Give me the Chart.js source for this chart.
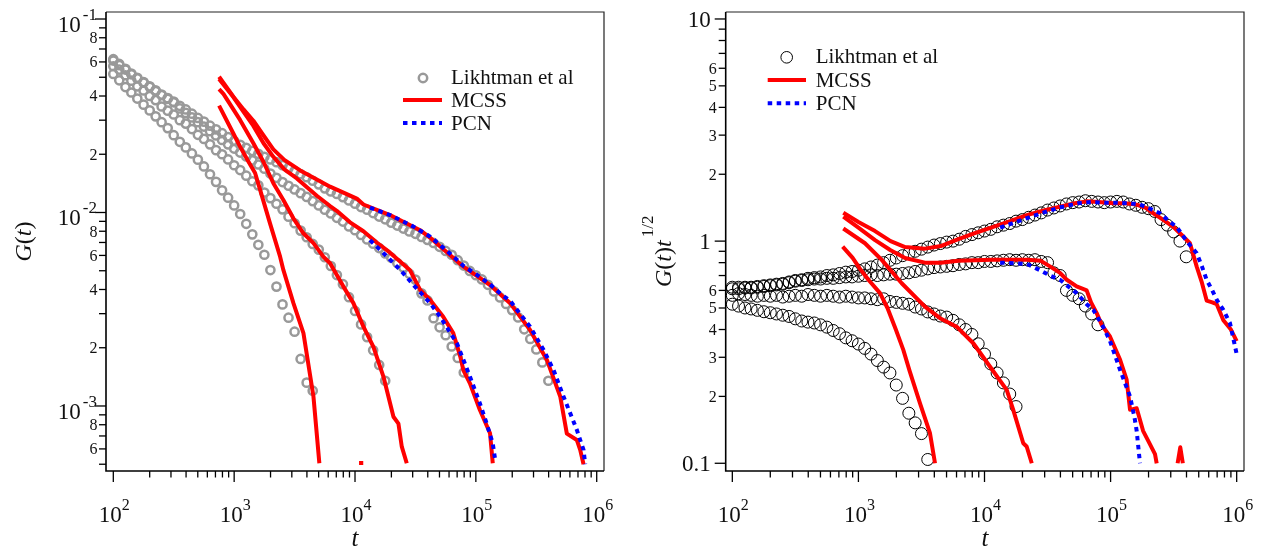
<!DOCTYPE html>
<html>
<head>
<meta charset="utf-8">
<script src="https://cdn.jsdelivr.net/npm/chart.js@4.4.1/dist/chart.umd.min.js"></script>
<style>
  html, body { margin: 0; padding: 0; background: #fff; }
  #wrap { position: relative; width: 1261px; height: 560px; overflow: hidden; }
  #wrap canvas { position: absolute; top: 0; }
</style>
</head>
<body>
<div id="wrap">
  <canvas id="left" width="630" height="560" style="left:0"></canvas>
  <canvas id="right" width="631" height="560" style="left:630px"></canvas>
</div>
<script>
// ---------------- data ----------------
// sampling times of the Likhtman et al. stress relaxation data
const likhT = [100,112,126,141,158,178,200,224,251,282,316,355,398,447,501,562,631,708,794,891,
  1000,1122,1259,1413,1585,1778,1995,2239,2512,2818,3162,3548,3981,4467,5012,5623,6310,7079,7943,8913,
  10000,11220,12589,14125,15849,17783,19953,22387,25119,28184,31623,35481,39811,44668,50119,56234,63096,70795,79433,89125,
  100000,112202,125893,141254,158489,177828,199526,223872,251189,281838,316228,354813,398107];

// G(t), four chain lengths
const likhG1 = [0.052,0.0482,0.0445,0.0417,0.0388,0.0361,0.0337,0.0314,0.0293,0.0273,0.0251,0.0232,0.0217,0.0202,0.01876,0.0173,0.01576,0.0144,0.01302,0.01193,
  0.01088,0.00982,0.00874,0.00771,0.00681,0.00605,0.00504,0.00414,0.00335,0.00286,0.00242,0.00175,0.00132,0.0012];
const likhG2 = [0.057,0.0548,0.0512,0.048,0.0449,0.0427,0.040,0.0381,0.0353,0.0336,0.0321,0.030,0.0288,0.027,0.0252,0.024,0.0225,0.021,0.020,0.0188,
  0.01755,0.01657,0.0155,0.0145,0.01381,0.01269,0.01187,0.0111,0.01038,0.00951,0.0088,0.00806,0.00745,0.00688,0.00643,0.00587,0.00529,0.00475,0.00426,0.00365,
  0.0031,0.00264,0.00227,0.00194,0.00163,0.00135];
const likhG3 = [0.062,0.0577,0.0553,0.0518,0.0493,0.0469,0.0446,0.0424,0.0404,0.0387,0.0371,0.0345,0.0327,0.031,0.0293,0.0278,0.0263,0.025,0.0237,0.0225,
  0.0214,0.0204,0.0195,0.0186,0.0177,0.01684,0.0159,0.01511,0.01437,0.01375,0.01316,0.01259,0.01204,0.01145,0.01088,0.01033,0.00988,0.00939,0.00898,0.00847,
  0.0081,0.00765,0.00726,0.0069,0.00655,0.00615,0.00584,0.00548,0.0052,0.00482,0.0045,0.00382,0.00351,0.00284,0.00255,0.00232,0.00203,0.00177,0.00149];
const likhG4 = [0.061,0.0586,0.0548,0.0522,0.0497,0.0472,0.0449,0.0428,0.0407,0.039,0.0374,0.0356,0.0341,0.0324,0.0308,0.0295,0.0281,0.0269,0.0257,0.0245,
  0.0234,0.0224,0.0216,0.0208,0.0201,0.0194,0.0188,0.0182,0.01756,0.01695,0.01636,0.01578,0.01521,0.01459,0.01398,0.01333,0.01284,0.01248,0.01201,0.01155,
  0.0111,0.01067,0.01034,0.00993,0.00953,0.00922,0.00885,0.00856,0.00826,0.00798,0.00776,0.00748,0.00722,0.00696,0.00665,0.00633,0.00605,0.00567,0.00532,0.00499,
  0.00474,0.00451,0.00423,0.00391,0.00364,0.00337,0.00313,0.00287,0.00249,0.00222,0.00196,0.00168,0.00135];

// G(t) t^(1/2), same four chain lengths
const likhV1 = [0.52,0.51,0.50,0.495,0.488,0.481,0.476,0.470,0.464,0.458,0.447,0.437,0.432,0.428,0.420,0.410,0.396,0.383,0.367,0.356,
  0.344,0.329,0.310,0.290,0.271,0.255,0.225,0.196,0.168,0.152,0.136,0.104];
const likhV2 = [0.57,0.58,0.575,0.57,0.565,0.57,0.565,0.57,0.56,0.565,0.57,0.565,0.575,0.57,0.565,0.57,0.565,0.56,0.565,0.56,
  0.555,0.555,0.55,0.545,0.55,0.535,0.53,0.525,0.52,0.505,0.495,0.48,0.47,0.46,0.455,0.44,0.42,0.40,0.38,0.345,
  0.31,0.28,0.255,0.23,0.205,0.18];
const likhV3 = [0.62,0.61,0.62,0.615,0.62,0.625,0.63,0.635,0.64,0.65,0.66,0.665,0.67,0.675,0.675,0.68,0.68,0.685,0.69,0.69,
  0.695,0.70,0.705,0.70,0.705,0.71,0.71,0.715,0.72,0.73,0.74,0.75,0.76,0.765,0.77,0.775,0.785,0.79,0.80,0.80,
  0.81,0.81,0.815,0.82,0.825,0.82,0.825,0.82,0.825,0.81,0.80,0.72,0.70,0.60,0.57,0.55,0.51,0.47,0.42];
const likhV4 = [0.61,0.62,0.615,0.62,0.625,0.63,0.635,0.64,0.645,0.655,0.665,0.67,0.68,0.685,0.69,0.70,0.705,0.715,0.725,0.73,
  0.74,0.75,0.765,0.78,0.80,0.82,0.84,0.86,0.88,0.90,0.92,0.94,0.96,0.975,0.99,1.0,1.02,1.05,1.07,1.09,
  1.11,1.13,1.16,1.18,1.2,1.23,1.25,1.28,1.31,1.34,1.38,1.41,1.44,1.47,1.49,1.50,1.52,1.51,1.50,1.49,
  1.50,1.51,1.50,1.47,1.45,1.42,1.40,1.36,1.25,1.18,1.10,1.00,0.85];

// MCSS, G(t)
const mcssGT1 = [750,985,1119,1300,1490,1640,1980,2400,2553,3093,3743,4530,5070,8000,10800,11700];
const mcssG1  = [0.0357,0.0256,0.0219,0.0185,0.016,0.0131,0.00879,0.00591,0.00505,0.0034,0.00238,0.00112,0.000506,null,0.000508,0.000508];
const mcssGT2 = [750,815,985,1119,1442,1746,2110,2553,3090,3740,4530,5470,6220,8020,9700,11740,14200,17180,20800,22880,24380,26800];
const mcssG2  = [0.0434,0.041,0.0341,0.0301,0.0228,0.0183,0.01416,0.01161,0.00933,0.00781,0.00694,0.00591,0.00547,0.00414,0.0034,0.00257,0.00202,0.00142,0.00088,0.00081,0.000616,0.000506];
const mcssGT3 = [750,985,1200,1442,1750,2110,2600,3300,4830,6220,7060,9100,11740,13300,15140,19500,28400,34600,41900,53700,65000,74300,78900,89300,108000,131000,138000];
const mcssG3  = [0.049,0.0395,0.033,0.028,0.0228,0.0194,0.0167,0.015,0.0122,0.0108,0.0102,0.0089,0.008,0.0075,0.007,0.0062,0.00505,0.00398,0.00353,0.00289,0.00238,0.0018,0.00153,0.00131,0.000953,0.000723,0.000506];
const mcssGT4 = [750,985,1200,1442,1750,2110,2600,3090,3516,4830,6220,10350,11740,19500,22180,34600,41900,78900,131000,192000,281000,387000,499000,566000,685000,730000,778000];
const mcssG4  = [0.0503,0.0397,0.034,0.0298,0.025,0.0212,0.0187,0.0174,0.0165,0.0148,0.0136,0.0118,0.011,0.0097,0.0093,0.0081,0.0074,0.00525,0.00422,0.0034,0.00247,0.00173,0.00112,0.00072,0.000667,0.000593,0.0005];

// PCN, G(t)
const pcnGT3 = [13300,16200,23700,30500,41900,50700,69700,89300,108000,123000,138000,144600];
const pcnG3  = [0.0072,0.0064,0.00505,0.00422,0.0034,0.00289,0.00211,0.00142,0.00103,0.00081,0.00064,0.000526];
const pcnGT4 = [13300,19500,30000,41900,60000,78900,100000,131000,160000,192000,218000,281000,363000,440000,531000,604000,685000,778000,803000];
const pcnG4  = [0.0106,0.0097,0.0085,0.0075,0.0062,0.0053,0.0048,0.00425,0.0038,0.0035,0.00315,0.00257,0.00195,0.00153,0.00112,0.000916,0.000752,0.000593,0.0005];

// MCSS, G(t) t^(1/2)
const mcssVT1 = [750,900,1030,1200,1483,1700,1980,2270,2550,3080,3690,4050];
const mcssV1  = [0.945,0.84,0.75,0.67,0.583,0.50,0.40,0.324,0.26,0.186,0.137,0.10];
const mcssVT2 = [759,1127,1531,2205,3370,4440,6010,8150,11070,15000,16900,20300,21600,23700];
const mcssV2  = [1.14,0.978,0.823,0.646,0.507,0.45,0.412,0.347,0.272,0.214,0.174,0.123,0.119,0.10];
const mcssVT3 = [759,1000,1355,1800,2345,3370,4500,6200,8500,11400,16000,22000,28000,33000,39700,44900,53800,64600,70000,77600,85000,98900,119000,134000,142600,161000,181000,205000,225000,232000,300000,340000,357000,374000];
const mcssV3  = [1.29,1.15,1.01,0.91,0.84,0.80,0.80,0.815,0.82,0.825,0.825,0.825,0.815,0.77,0.72,0.67,0.625,0.60,0.53,0.474,0.42,0.372,0.292,0.238,0.174,0.177,0.14,0.122,0.11,0.10,null,0.10,0.118,0.10];
const mcssVT4 = [759,1000,1355,1800,2345,3370,4500,6200,8500,11740,16000,21600,29000,39700,52000,64600,80000,105000,130000,161000,190000,218000,260000,314000,370000,426000,482000,530000,578000,640000,695000,784000,900000,1000000];
const mcssV4  = [1.343,1.22,1.11,1.00,0.94,0.925,0.95,1.02,1.09,1.16,1.23,1.31,1.37,1.43,1.48,1.51,1.50,1.48,1.48,1.46,1.41,1.335,1.25,1.16,1.06,0.978,0.768,0.65,0.54,0.53,0.52,0.44,0.40,0.355];

// PCN, G(t) t^(1/2)
const pcnVT3 = [13300,21600,27500,33000,39700,53800,64600,73000,87600,98900,119000,142600,155000,161000,171000];
const pcnV3  = [0.80,0.79,0.74,0.70,0.67,0.583,0.52,0.49,0.41,0.355,0.263,0.20,0.16,0.14,0.10];
const pcnVT4 = [13300,20000,30000,40000,55000,70000,90000,110000,140000,171000,200000,247000,290000,334000,401000,482000,530000,578000,640000,695000,784000,885000,1000000];
const pcnV4  = [1.15,1.25,1.35,1.42,1.48,1.50,1.49,1.49,1.48,1.46,1.41,1.335,1.23,1.16,1.00,0.882,0.77,0.669,0.60,0.544,0.49,0.427,0.31];

// axis ticks
const xDecades = [1e2, 1e3, 1e4, 1e5, 1e6];
const xDecadeExp = ['2', '3', '4', '5', '6'];
const minorMantissas = [2, 3, 4, 5, 6, 7, 8, 9];
const gDecades = [1e-1, 1e-2, 1e-3];
const gDecadeExp = ['-1', '-2', '-3'];
const gLabelledMinors = [2, 4, 6, 8];
const vDecades = [10, 1, 0.1];
const vDecadeText = ['10', '1', '0.1'];
const vLabelledMinors = [2, 3, 4, 5, 6];

const legendNames = ['Likhtman et al', 'MCSS', 'PCN'];

// ---------------- drawing ----------------
const SERIF = "'Liberation Serif', 'Times New Roman', serif";
const RED = '#ff0000', BLUE = '#0000ff', GREY = '#999999';

const pts = (ts, vs) => vs.map((v, i) => ({ x: ts[i], y: v }));

function circles(ts, vs, color, r, w) {
  return { data: pts(ts, vs), showLine: false, pointStyle: 'circle', pointRadius: r,
    pointBorderWidth: w, pointBorderColor: color, pointBackgroundColor: 'rgba(0,0,0,0)', order: 3 };
}
function curve(ts, vs, color, dashed) {
  return { data: pts(ts, vs), showLine: true, pointRadius: 0, borderColor: color,
    borderWidth: 4, borderDash: dashed ? [4.5, 4.5] : [], borderJoinStyle: 'round',
    fill: false, spanGaps: false, order: dashed ? 1 : 2 };
}

function runs(ctx, parts, x, y, align) {
  let w = 0;
  parts.forEach(p => { ctx.font = p.font; p.w = ctx.measureText(p.t).width + (p.gap || 0); w += p.w; });
  let cx = align === 'right' ? x - w : align === 'center' ? x - w / 2 : x;
  parts.forEach(p => { ctx.font = p.font; ctx.fillText(p.t, cx + (p.gap || 0), y + (p.dy || 0)); cx += p.w; });
}

function seg(ctx, x1, y1, x2, y2) { ctx.beginPath(); ctx.moveTo(x1, y1); ctx.lineTo(x2, y2); ctx.stroke(); }

function framePlugin(kind) {
  return {
    id: 'frame',
    afterDatasetsDraw(chart) {
      const { ctx, chartArea: a } = chart;
      const xs = chart.scales.x, ys = chart.scales.y;
      ctx.save();
      ctx.textAlign = 'left'; ctx.textBaseline = 'alphabetic'; ctx.fillStyle = '#111';
      // box
      ctx.lineWidth = 1.2; ctx.strokeStyle = '#222';
      ctx.beginPath(); ctx.moveTo(a.left, a.top); ctx.lineTo(a.right, a.top); ctx.lineTo(a.right, a.bottom); ctx.stroke();
      ctx.lineWidth = 1.6; ctx.strokeStyle = '#000';
      ctx.beginPath(); ctx.moveTo(a.left, a.top); ctx.lineTo(a.left, a.bottom); ctx.lineTo(a.right, a.bottom); ctx.stroke();

      // x axis ticks and labels
      ctx.lineWidth = 1.3;
      xDecades.forEach((d, i) => {
        const p = xs.getPixelForValue(d);
        seg(ctx, p, a.bottom, p, a.bottom + 11);
        if (i < xDecades.length - 1) {
          minorMantissas.forEach(m => { const q = xs.getPixelForValue(m * d); seg(ctx, q, a.bottom, q, a.bottom + 6.5); });
        }
        runs(ctx, [{ t: '10', font: '23px ' + SERIF }, { t: xDecadeExp[i], font: '16px ' + SERIF, dy: -12 }], p + 1, 522, 'center');
      });
      ctx.font = 'italic 25px ' + SERIF; ctx.textAlign = 'center';
      ctx.fillText('t', (a.left + a.right) / 2, 546);
      ctx.textAlign = 'left';

      // y axis ticks and labels
      const inRange = v => v >= ys.min && v <= ys.max;
      const decades = kind === 'g' ? gDecades : vDecades;
      const labelled = kind === 'g' ? gLabelledMinors : vLabelledMinors;
      const minorBase = kind === 'g' ? [1e-2, 1e-3, 1e-4] : [1, 0.1];
      decades.forEach((d, i) => {
        const p = ys.getPixelForValue(d);
        seg(ctx, a.left - 11, p, a.left, p);
        if (kind === 'g') {
          runs(ctx, [{ t: '10', font: '23px ' + SERIF },
                     { t: gDecadeExp[i], font: '17px ' + SERIF, dy: -12, gap: 2 }], a.left - 9, p + 13, 'right');
        } else {
          runs(ctx, [{ t: vDecadeText[i], font: '23px ' + SERIF }], a.left - 15, p + 7.8, 'right');
        }
      });
      minorBase.forEach(b => {
        minorMantissas.forEach(m => {
          const v = m * b;
          if (!inRange(v)) return;
          const p = ys.getPixelForValue(v);
          seg(ctx, a.left - 7, p, a.left, p);
          if (labelled.includes(m)) {
            runs(ctx, [{ t: String(m), font: '16px ' + SERIF }], a.left - (kind === 'g' ? 8.5 : 9), p + 5.4, 'right');
          }
        });
      });

      // y axis title
      const midY = (a.top + a.bottom) / 2;
      ctx.save();
      if (kind === 'g') {
        ctx.translate(31, midY); ctx.rotate(-Math.PI / 2);
        runs(ctx, [{ t: 'G', font: 'italic 24px ' + SERIF }, { t: '(', font: '24px ' + SERIF },
                   { t: 't', font: 'italic 24px ' + SERIF }, { t: ')', font: '24px ' + SERIF }], 0, 0, 'center');
      } else {
        ctx.translate(671 - 630, 287); ctx.rotate(-Math.PI / 2);
        runs(ctx, [{ t: 'G', font: 'italic 24px ' + SERIF }, { t: '(', font: '24px ' + SERIF },
                   { t: 't', font: 'italic 24px ' + SERIF }, { t: ')', font: '24px ' + SERIF },
                   { t: 't', font: 'italic 24px ' + SERIF },
                   { t: '1/2', font: '17px ' + SERIF, dy: -18, gap: 3 }], 0, 0, 'left');
      }
      ctx.restore();

      // legend
      const L = kind === 'g'
        ? { cx: 317, cy: 66, r: 4.2, cw: 2.5, cc: GREY, x1: 297, x2: 336, tx: 345, ly: 88, dy: 23, fs: 21, tb: 6 }
        : { cx: 61, cy: 45.3, r: 5.8, cw: 1, cc: '#000', x1: 42, x2: 80.3, tx: 90, ly: 68, dy: 23.3, fs: 21, tb: 6 };
      const ox = a.left, oy = a.top;
      ctx.beginPath(); ctx.arc(ox + L.cx, oy + L.cy, L.r, 0, Math.PI * 2);
      ctx.lineWidth = L.cw; ctx.strokeStyle = L.cc; ctx.stroke();
      ctx.lineWidth = 4; ctx.strokeStyle = RED; ctx.setLineDash([]);
      seg(ctx, ox + L.x1, oy + L.ly, ox + L.x2, oy + L.ly);
      ctx.strokeStyle = BLUE; ctx.setLineDash([4.5, 4.5]);
      seg(ctx, ox + L.x1, oy + L.ly + L.dy, ox + L.x2, oy + L.ly + L.dy);
      ctx.setLineDash([]);
      ctx.font = L.fs + 'px ' + SERIF; ctx.fillStyle = '#111'; ctx.textAlign = 'left';
      ctx.fillText(legendNames[0], ox + L.tx, oy + L.cy + L.tb);
      ctx.fillText(legendNames[1], ox + L.tx, oy + L.ly + L.tb + 1);
      ctx.fillText(legendNames[2], ox + L.tx, oy + L.ly + L.dy + L.tb + 1);
      ctx.restore();
    }
  };
}

function makeChart(id, datasets, pad, xr, yr, kind) {
  return new Chart(document.getElementById(id), {
    type: 'scatter',
    data: { datasets },
    options: {
      responsive: false, animation: false, devicePixelRatio: 1, events: [],
      layout: { padding: pad },
      scales: {
        x: { type: 'logarithmic', min: xr[0], max: xr[1], display: false },
        y: { type: 'logarithmic', min: yr[0], max: yr[1], display: false }
      },
      plugins: { legend: { display: false }, tooltip: { enabled: false } }
    },
    plugins: [framePlugin(kind)]
  });
}

// G(t) panel
makeChart('left', [
  circles(likhT, likhG1, GREY, 4.1, 2.5),
  circles(likhT, likhG2, GREY, 4.1, 2.5),
  circles(likhT, likhG3, GREY, 4.1, 2.5),
  circles(likhT, likhG4, GREY, 4.1, 2.5),
  curve(mcssGT1, mcssG1, RED), curve(mcssGT2, mcssG2, RED),
  curve(mcssGT3, mcssG3, RED), curve(mcssGT4, mcssG4, RED),
  curve(pcnGT3, pcnG3, BLUE, true), curve(pcnGT4, pcnG4, BLUE, true)
], { left: 106, top: 12, right: 26, bottom: 89 }, [87.0, 1.149e6], [4.613e-4, 0.1087], 'g');

// G(t) t^(1/2) panel
makeChart('right', [
  circles(likhT, likhV1, '#000', 6, 1),
  circles(likhT, likhV2, '#000', 6, 1),
  circles(likhT, likhV3, '#000', 6, 1),
  circles(likhT, likhV4, '#000', 6, 1),
  curve(mcssVT1, mcssV1, RED), curve(mcssVT2, mcssV2, RED),
  curve(mcssVT3, mcssV3, RED), curve(mcssVT4, mcssV4, RED),
  curve(pcnVT3, pcnV3, BLUE, true), curve(pcnVT4, pcnV4, BLUE, true)
], { left: 95.7, top: 12, right: 17, bottom: 89 }, [88.6, 1.143e6], [0.0923, 10.75], 'v');
</script>
</body>
</html>
